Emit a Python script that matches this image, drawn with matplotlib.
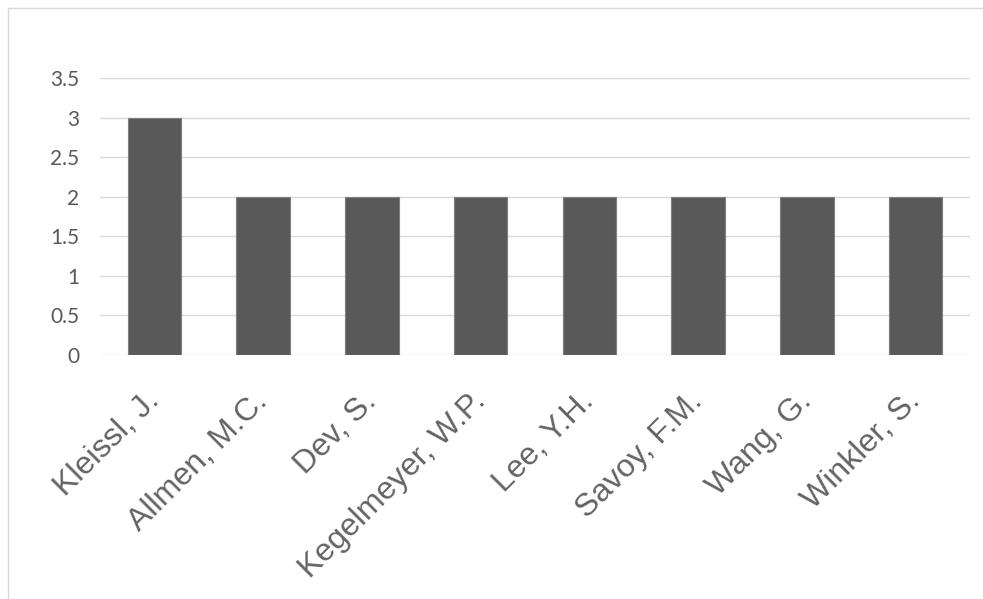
import numpy as np
from matplotlib import pyplot as plt
from matplotlib.patches import Rectangle

# Datos del gráfico
authors = ["Kleissl, J.", "Allmen, M.C.", "Dev, S.", "Kegelmeyer, W.P.",
           "Lee, Y.H.", "Savoy, F.M.", "Wang, G.", "Winkler, S."]
counts = [3, 2, 2, 2, 2, 2, 2, 2]
yticks = [0, 0.5, 1, 1.5, 2, 2.5, 3, 3.5]
ytick_labels = ["0", "0.5", "1", "1.5", "2", "2.5", "3", "3.5"]

W, H = 983, 599
fig = plt.figure(figsize=(W / 100, H / 100), dpi=100)
ax = fig.add_axes([100 / W, 1 - 355 / H, 870 / W, 277 / H])

# Marco exterior del gráfico (solo se ven los bordes superior e izquierdo)
fig.patches.append(Rectangle((8 / W, -0.1), 1.2, 1 - 8 / H + 0.1,
                             transform=fig.transFigure, fill=False,
                             edgecolor="#d9d9d9", linewidth=1))

x = np.arange(len(authors))
ax.bar(x, counts, width=0.49, color="#595959", edgecolor="#7f7f7f",
       linewidth=0.8, zorder=3)

ax.set_xlim(-0.5, len(authors) - 0.5)
ax.set_ylim(0, 3.5)
ax.set_yticks(yticks)
ax.set_yticklabels(ytick_labels, fontfamily="Lato", fontsize=15, color="#595959")
ax.yaxis.grid(True, color="#d9d9d9", linewidth=1, zorder=0)
ax.set_axisbelow(True)

ax.set_xticks(x)
ax.set_xticklabels(authors, rotation=45, ha="right", va="center",
                   rotation_mode="anchor", fontfamily="Liberation Sans",
                   fontsize=23, color="#636363")

for s in ax.spines.values():
    s.set_visible(False)
ax.tick_params(axis="both", length=0)
ax.tick_params(axis="x", pad=30)
ax.tick_params(axis="y", pad=15)

plt.savefig("out.png", dpi=100)
